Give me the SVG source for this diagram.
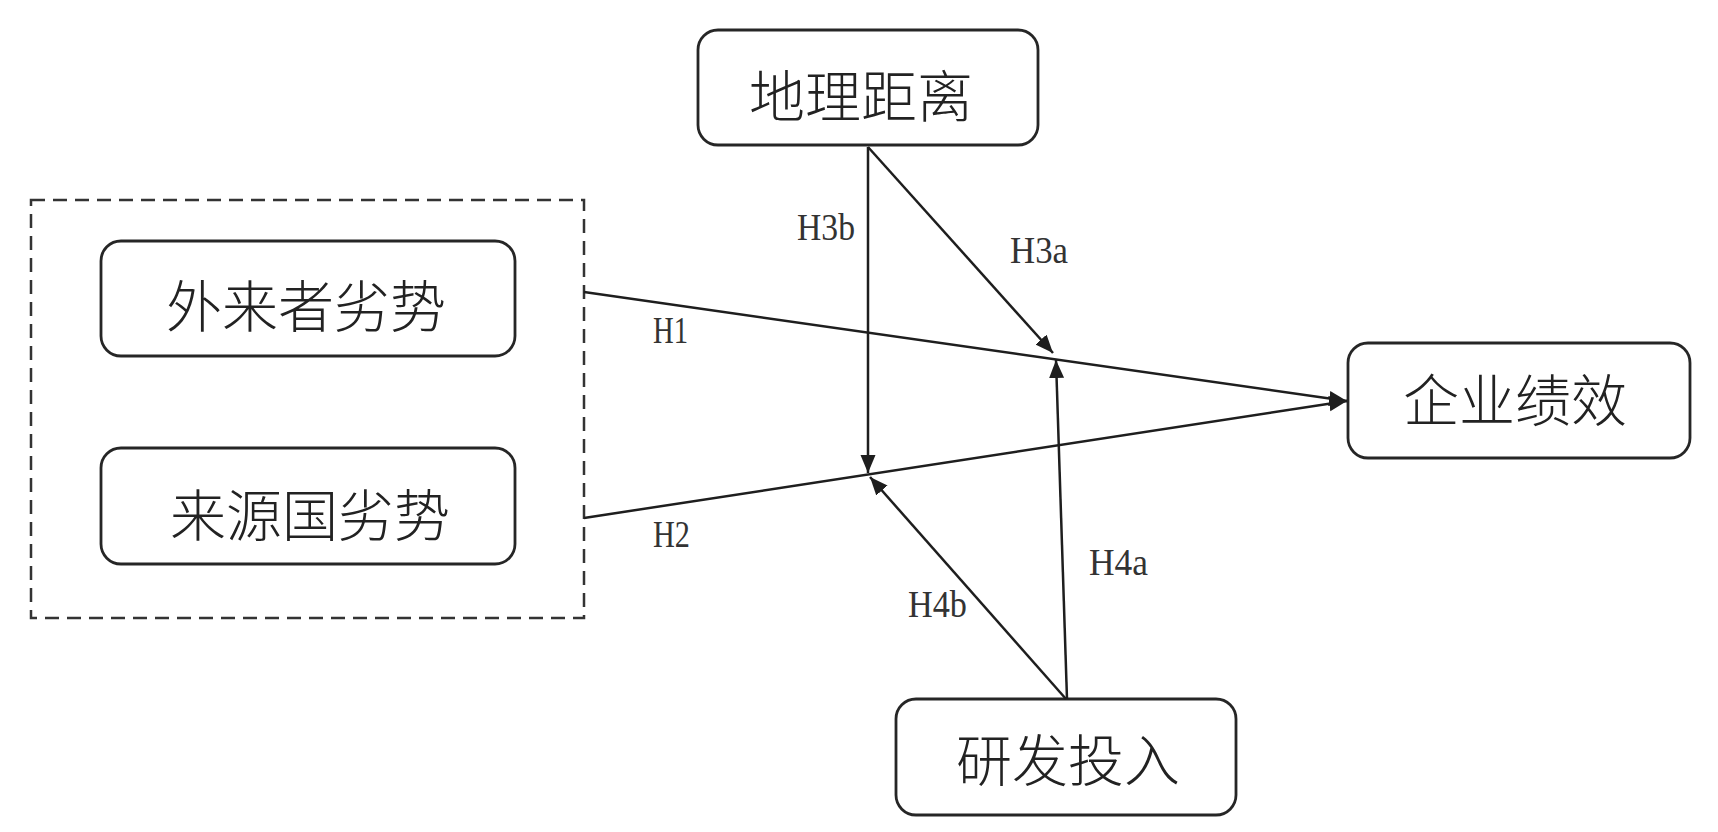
<svg xmlns="http://www.w3.org/2000/svg" width="1718" height="832" viewBox="0 0 1718 832">
<style>
.box{fill:#fff;stroke:#262626;stroke-width:2.8}
.cn{font-family:"Noto Sans CJK SC","Noto Sans CJK JP",sans-serif;font-size:56px;font-weight:300;fill:#222;text-anchor:middle;dominant-baseline:central}
.lb{font-family:"Liberation Serif","DejaVu Serif",serif;font-size:38px;fill:#333}
.ln{stroke:#1e1e1e;stroke-width:2.5;fill:none}
</style>
<defs>
<marker id="arr" markerUnits="userSpaceOnUse" markerWidth="20" markerHeight="16" refX="18" refY="7.5" orient="auto">
<path d="M0,0 L18,7.5 L0,15 z" fill="#1e1e1e"/>
</marker>
</defs>
<rect width="1718" height="832" fill="#fff"/>
<g id="group-box">
<rect x="31" y="200" width="553" height="418" fill="none" stroke="#333" stroke-width="2.5" stroke-dasharray="14 8"/>
</g>
<g id="node-geo">
<rect class="box" x="698" y="30" width="340" height="115" rx="20"/>
<text class="cn" x="861" y="92">地理距离</text>
</g>
<g id="node-lof">
<rect class="box" x="101" y="241" width="414" height="115" rx="20"/>
<text class="cn" x="306" y="302">外来者劣势</text>
</g>
<g id="node-coo">
<rect class="box" x="101" y="448" width="414" height="116" rx="20"/>
<text class="cn" x="310" y="511">来源国劣势</text>
</g>
<g id="node-perf">
<rect class="box" x="1348" y="343" width="342" height="115" rx="20"/>
<text class="cn" x="1515" y="396">企业绩效</text>
</g>
<g id="node-rd">
<rect class="box" x="896" y="699" width="340" height="116" rx="20"/>
<text class="cn" x="1068" y="756">研发投入</text>
</g>
<g id="connectors">
<line class="ln" x1="584" y1="292" x2="1347" y2="401" marker-end="url(#arr)"/>
<line class="ln" x1="584" y1="518" x2="1347" y2="401" marker-end="url(#arr)"/>
<line class="ln" x1="868" y1="147" x2="868" y2="473" marker-end="url(#arr)"/>
<line class="ln" x1="868" y1="147" x2="1053" y2="353" marker-end="url(#arr)"/>
<line class="ln" x1="1067" y1="699" x2="1056" y2="360" marker-end="url(#arr)"/>
<line class="ln" x1="1066" y1="699" x2="870" y2="477" marker-end="url(#arr)"/>
<text class="lb" x="797" y="240" textLength="58" lengthAdjust="spacingAndGlyphs">H3b</text>
<text class="lb" x="1010" y="263" textLength="58" lengthAdjust="spacingAndGlyphs">H3a</text>
<text class="lb" x="653" y="343" textLength="35" lengthAdjust="spacingAndGlyphs">H1</text>
<text class="lb" x="653" y="547" textLength="37" lengthAdjust="spacingAndGlyphs">H2</text>
<text class="lb" x="1089" y="575" textLength="59" lengthAdjust="spacingAndGlyphs">H4a</text>
<text class="lb" x="908" y="617" textLength="59" lengthAdjust="spacingAndGlyphs">H4b</text>
</g>
</svg>
